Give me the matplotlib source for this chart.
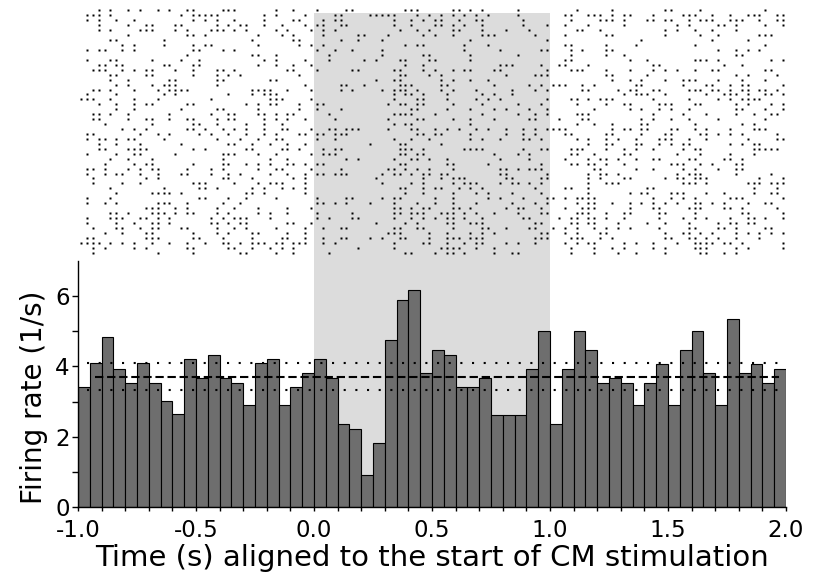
import numpy as np
import matplotlib.pyplot as plt
from matplotlib.transforms import blended_transform_factory

plt.rcParams['font.family'] = ['DejaVu Sans']
plt.rcParams['axes.unicode_minus'] = False

# histogram: 50 ms bins from -1.0 s to 2.0 s, firing rate in 1/s
bin_start = np.round(np.arange(-1.0, 2.0, 0.05), 2)
rate = [3.40, 4.09, 4.83, 3.94, 3.54, 4.09, 3.54, 3.02, 2.64, 4.21,
        3.68, 4.33, 3.68, 3.54, 2.90, 4.09, 4.21, 2.90, 3.40, 3.81,
        4.21, 3.68, 2.36, 2.23, 0.92, 1.82, 4.74, 5.90, 6.18, 3.81,
        4.46, 4.33, 3.40, 3.40, 3.68, 2.63, 2.63, 2.63, 3.94, 5.00,
        2.36, 3.94, 5.00, 4.46, 3.54, 3.68, 3.54, 2.90, 3.54, 4.08,
        2.90, 4.46, 5.00, 3.81, 2.90, 5.36, 3.81, 4.08, 3.54, 3.94]
mean_rate = 3.70
band_low, band_high = 3.32, 4.11
stim_on, stim_off = 0.0, 1.0

# raster: each row = a group of trials, values = 25 ms bin index of a spike
spike_bins = [
    [3,5,8,10,13,15,18,19,24,25,26,33,36,40,45,46,55,56,57,63,64,66,68,74,84,90,99,100,105,116],
    [1,2,3,5,17,19,20,21,22,23,31,33,38,43,44,49,50,51,52,53,57,59,61,63,65,67,69,74,82,83,86,87,88,90,92,93,97,102,103,104,107,110,113,114,115,118,119],
    [1,3,6,9,19,21,23,26,31,36,37,41,43,44,53,56,58,60,61,64,67,68,75,83,88,89,90,92,96,97,99,100,103,105,106,107,110,111,112,115,118,119],
    [3,8,11,12,16,17,23,25,27,28,31,34,38,40,41,44,45,53,56,60,61,63,65,68,75,79,82,86,92,101,103,108,109,111,116,119],
    [3,5,10,11,12,16,18,22,23,24,26,28,33,35,39,41,43,54,57,59,63,64,68,72,76,84,85,88,99,101,104,107,111],
    [8,18,19,21,30,34,36,41,47,48,52,58,60,63,68,69,70,77,82,89,90,99,105,108,115,116,117],
    [5,6,14,29,36,37,44,47,51,66,79,95,107,113],
    [7,9,14,19,21,22,30,37,39,41,55,57,58,65,69,82,83,89,94,104,116],
    [1,3,4,7,9,19,20,24,26,40,43,46,51,65,71,78,79,83,85,89,90,108,111,113,115],
    [18,29,30,33,42,51,58,59,66,74,83,89,92,111,112],
    [1,5,6,12,17,20,31,33,38,42,48,50,54,55,59,60,66,82,83,93,96,104,105,106,108,117,119],
    [3,4,6,7,14,15,19,20,30,33,36,39,55,58,71,72,73,78,81,82,86,97,98,109,112],
    [2,3,4,7,9,11,12,16,19,23,24,26,35,36,40,46,47,53,54,58,60,63,65,66,70,71,79,83,84,85,89,93,97,99,101,104,107,108,116,117],
    [5,6,11,12,19,23,25,27,37,54,55,59,61,72,77,78,79,89,90,96,111,113,118],
    [5,8,15,16,23,24,32,33,50,53,54,61,63,66,69,90,93,95,99,102,103,104,108,112,116],
    [6,8,12,14,15,16,23,38,44,45,48,54,55,56,61,62,70,76,78,80,81,82,85,87,94,95,102,106,107,110,112,113,119],
    [2,3,5,9,13,15,16,17,18,29,30,31,32,35,39,44,46,51,53,54,55,57,61,63,67,73,77,79,85,86,91,93,94,97,98,103,104,105,107,108,110,112,113,115,116,118],
    [1,6,14,16,25,29,31,32,33,53,55,56,58,62,68,70,73,92,94,95,96,99,106,109,110,111,113,116,117,119],
    [0,1,2,5,9,13,22,32,33,34,39,53,57,58,62,67,69,71,79,83,84,86,88,89,90,97,103,108,110,112,113,114,115],
    [3,6,9,11,12,18,19,28,30,32,33,37,40,41,52,54,55,57,58,63,68,74,78,84,89,92,93,98,99,100,104,105,111,113,117,119],
    [6,9,17,23,24,30,37,40,44,56,57,62,66,70,72,76,79,87,93,95,98,100,103,111,112,116,119],
    [2,3,5,8,15,22,25,26,30,31,33,35,36,42,53,54,55,56,60,68,74,77,79,84,85,86,97,102,106,111,114,117,118],
    [2,3,8,11,12,15,18,19,23,25,26,31,33,35,38,43,52,57,58,63,66,70,76,77,81,85,86,95,97,100,103,108,116],
    [4,12,19,20,23,28,31,34,53,55,56,66,84,87,90,95,96,104,112,114],
    [7,9,11,18,19,21,24,26,28,31,34,35,39,42,43,45,46,47,52,56,57,60,62,64,67,69,72,75,77,79,80,81,82,90,92,93,95,96,100,101,104,106,110,114,115,116],
    [1,2,10,13,15,20,22,25,28,31,33,37,38,40,41,43,44,45,57,58,60,61,66,72,75,77,82,83,89,90,95,99,100,105,106,108,110,112,118],
    [1,3,4,6,8,9,14,23,27,30,33,34,40,43,53,56,59,66,68,71,75,76,78,84,86,89,91,94,98,99,100,103,106,113,118,119],
    [3,6,10,17,25,26,29,32,35,38,49,54,55,61,86,89,90,94,95,98,100,102,103,110,112,114,115],
    [3,4,8,9,10,11,19,21,28,29,34,35,37,41,43,44,54,55,56,58,65,66,67,68,75,78,79,83,84,85,89,92,94,97,102,104,105,114,115,116,117,118],
    [1,6,9,10,16,24,25,26,30,33,39,41,42,43,54,55,57,58,70,74,76,83,84,87,92,93,101,105,110,114],
    [5,8,12,24,32,35,45,47,53,56,57,59,62,71,76,82,86,88,89,91,94,97,98,103,104,109,110,112],
    [4,9,11,12,19,24,25,28,30,32,35,36,38,40,41,54,55,62,63,69,78,83,84,86,87,89,92,100,101,102,105,107,111,112],
    [1,2,4,8,10,12,13,18,22,24,30,33,34,39,44,52,53,55,57,59,63,71,72,74,76,77,78,87,88,94,97,102,104,108,111,112],
    [1,4,6,7,10,13,17,18,22,25,27,32,35,38,40,41,43,44,45,51,53,54,56,58,59,61,62,71,72,79,86,88,89,91,101,103,104,105,111,117],
    [2,11,13,24,25,29,36,38,50,58,61,63,64,65,72,73,78,79,86,88,92,93,99,101,102,104,105,106,115,119],
    [2,7,10,19,20,21,26,30,32,33,34,38,51,56,58,63,65,66,67,71,73,74,76,78,86,89,90,91,102,103,104,106,113,114,115,117,118,119],
    [5,14,20,21,23,29,31,34,36,38,54,55,58,60,61,64,66,68,77,82,83,86,96,97,114,118],
    [6,12,13,14,15,17,28,29,31,38,55,58,63,67,69,73,78,86,93,95,96,100,101,102,106,109,114,117,118],
    [1,5,20,21,25,28,33,40,45,46,51,53,54,60,63,69,71,75,79,80,82,84,85,86,87,97,100,102,104,110,111,112,119],
    [1,4,6,13,14,15,18,24,27,40,41,43,45,49,53,57,60,63,67,73,77,79,84,86,87,90,93,95,97,99,101,104,105,107,109,113,116,117],
    [11,12,13,16,18,23,26,30,35,39,53,54,56,58,59,63,64,66,72,74,75,78,82,85,86,87,93,97,98,103,104,105,109,110,112,118],
    [5,6,8,12,13,14,16,18,19,23,25,30,32,35,40,46,53,54,56,57,58,61,62,63,65,67,70,74,78,79,84,85,86,89,92,93,98,99,104,112,113,119],
    [1,5,6,7,10,11,13,15,22,24,26,27,28,32,40,42,46,47,53,56,58,60,62,63,65,68,75,76,81,83,84,86,87,89,92,98,102,104,106,110,113,114,116,119],
    [1,6,9,12,13,15,22,23,25,27,28,35,36,39,50,55,57,62,63,66,67,68,77,78,83,84,86,87,91,96,99,103,108,110,111,113,114],
    [2,6,7,10,12,13,17,18,23,26,28,33,38,41,44,45,53,54,57,58,63,68,69,72,76,77,80,82,84,87,89,91,93,98,103,104,108,109,111,116,117],
    [4,7,11,12,19,23,25,29,30,35,38,52,53,54,59,62,66,68,70,78,79,82,84,88,89,99,102,103,105,107,111,113,115,117,119],
    [1,2,11,12,13,19,20,24,29,34,35,38,41,44,45,49,51,54,55,59,62,63,64,66,67,68,77,78,79,83,84,85,88,90,99,100,103,104,106,108,111,115],
    [0,1,2,3,5,7,9,12,15,18,21,24,25,27,29,30,31,33,34,36,37,38,41,43,53,58,59,62,65,67,68,72,74,77,82,84,86,87,92,94,97,101,104,105,106,107,109,110,112,119],
    [2,4,9,11,18,19,25,26,29,32,34,36,47,53,61,62,63,64,67,70,83,87,90,92,97,99,104,105,106,111,113,119],
    [2,13,19,27,28,33,36,42,55,56,60,62,63,65,70,73,74,83,87,91,94,99,105,106,109,111],
]

shade = '#dcdcdc'

fig = plt.figure(figsize=(8.15, 5.81), dpi=100)
ax_r = fig.add_axes([0.0957, 0.5525, 0.8687, 0.4337])
ax_h = fig.add_axes([0.0957, 0.1274, 0.8687, 0.4234])
for ax in (ax_r, ax_h):
    ax.set_facecolor('none')
    ax.set_zorder(1)

# one grey band for the stimulation period, through both panels
trans = blended_transform_factory(ax_h.transData, fig.transFigure)
fig.patches.append(plt.Rectangle((stim_on, 0.1274), stim_off - stim_on, 0.85,
                                 transform=trans, color=shade, lw=0, zorder=-1))

# raster
for r, row in enumerate(spike_bins):
    t = -1.0 + 0.025 * (np.array(row) + 0.5)
    ax_r.plot(t, np.full(len(t), r + 0.5), 's', color='black', ms=1.9, mec='none')
ax_r.set_xlim(-1, 2)
ax_r.set_ylim(51, 0)
ax_r.axis('off')

# PSTH
ax_h.bar(bin_start, rate, width=0.05, align='edge', color='#6e6e6e',
         edgecolor='black', linewidth=0.8, zorder=2)
ax_h.plot([-0.93, 1.97], [mean_rate, mean_rate], color='black', lw=1.5,
          dashes=(4, 1.8), zorder=3)
for lvl in [band_low, band_high]:
    ax_h.plot([-0.96, 2.0], [lvl, lvl], color='black', lw=1.5,
              dashes=(1, 4.6), zorder=3)

ax_h.set_xlim(-1, 2)
ax_h.set_ylim(0, 7)
ax_h.set_xticks(np.arange(-1.0, 2.01, 0.5))
ax_h.set_xticklabels(['%.1f' % v for v in np.arange(-1.0, 2.01, 0.5)])
ax_h.set_xticks(np.arange(-1.0, 2.01, 0.1), minor=True)
ax_h.set_yticks([0, 2, 4, 6])
ax_h.set_yticks([1, 3, 5], minor=True)
ax_h.tick_params(which='both', direction='out', width=1.0, labelsize=16.5)
ax_h.tick_params(axis='x', which='both', length=3, pad=6)
ax_h.tick_params(axis='y', which='both', length=4, pad=2)
for s in ['top', 'right']:
    ax_h.spines[s].set_visible(False)
for s in ['left', 'bottom']:
    ax_h.spines[s].set_linewidth(1.0)
ax_h.set_xlabel('Time (s) aligned to the start of CM stimulation', fontsize=21, labelpad=1)
ax_h.set_ylabel('Firing rate (1/s)', fontsize=20, labelpad=3)
ax_h.yaxis.set_label_coords(-0.042, 0.445)

fig.savefig('out.png', dpi=100)
